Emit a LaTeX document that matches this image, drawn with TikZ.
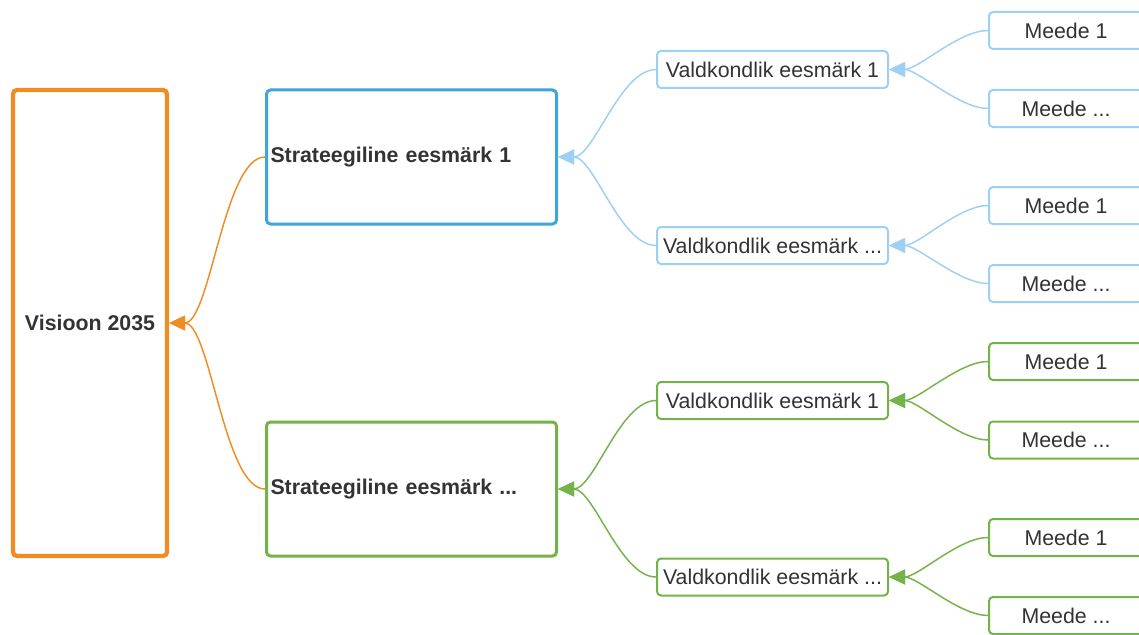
\documentclass[tikz,border=0pt]{standalone}
\usepackage{fontspec}
\setmainfont{Liberation Sans}
\usetikzlibrary{arrows.meta}
\usetikzlibrary{positioning}

\definecolor{visorange}{HTML}{EF8D22}
\definecolor{stratblue}{HTML}{3FA5DD}
\definecolor{lightblue}{HTML}{9DD0F2}
\definecolor{goalgreen}{HTML}{74B349}
\definecolor{txt}{HTML}{333333}

\begin{document}
\begin{tikzpicture}[x=0.75pt,y=-0.75pt,>={Triangle[length=12pt,width=11pt]},
    box/.style={draw, rounded corners=3pt, fill=white, text=txt, font=\fontsize{16}{19}\selectfont, inner sep=0pt},
    visbox/.style={box, line width=3.2pt, minimum width=115.5pt, minimum height=349.5pt, font=\fontsize{16}{19}\selectfont\bfseries},
    stratbox/.style={box, line width=2.25pt, font=\fontsize{16}{19}\selectfont\bfseries, text width=211.5pt, align=left, inner xsep=3pt, minimum height=100.5pt},
    goalbox/.style={box, line width=1.5pt, minimum width=173.25pt, minimum height=27.75pt},
    measurebox/.style={box, line width=1.5pt, minimum width=115.5pt, minimum height=27.75pt},
    link/.style={->, line width=1.1pt, looseness=0.7}]
      \useasboundingbox (0, 0) rectangle (1139, 635);

      % vision
      \node[visbox, draw=visorange] (vis) at (90, 323) {Visioon 2035};

      % strategic goals
      \node[stratbox, draw=stratblue] (S1) at (411.5, 157) {Strateegiline eesmärk 1};
      \node[stratbox, draw=goalgreen] (S2) at (411.5, 489) {Strateegiline eesmärk ...};

      % field goals
      \node[goalbox, draw=lightblue] (D1) at (772.5, 69.5)  {Valdkondlik eesmärk 1};
      \node[goalbox, draw=lightblue] (D2) at (772.5, 245.5) {Valdkondlik eesmärk ...};
      \node[goalbox, draw=goalgreen] (D3) at (772.5, 400.5) {Valdkondlik eesmärk 1};
      \node[goalbox, draw=goalgreen] (D4) at (772.5, 577)   {Valdkondlik eesmärk ...};

      % measures
      \node[measurebox, draw=lightblue] (M1) at (1066, 30.5)  {Meede 1};
      \node[measurebox, draw=lightblue] (M2) at (1066, 108.5) {Meede ...};
      \node[measurebox, draw=lightblue] (M3) at (1066, 205.5) {Meede 1};
      \node[measurebox, draw=lightblue] (M4) at (1066, 283.5) {Meede ...};
      \node[measurebox, draw=goalgreen] (M5) at (1066, 361.5) {Meede 1};
      \node[measurebox, draw=goalgreen] (M6) at (1066, 440)   {Meede ...};
      \node[measurebox, draw=goalgreen] (M7) at (1066, 537.5) {Meede 1};
      \node[measurebox, draw=goalgreen] (M8) at (1066, 615.5) {Meede ...};

      \draw[link, visorange, looseness=0.55] (S1.west) to[out=180, in=0] (vis.east);
      \draw[link, visorange, looseness=0.55] (S2.west) to[out=180, in=0] (vis.east);

      \draw[link, lightblue] (D1.west) to[out=180, in=0] (S1.east);
      \draw[link, lightblue] (D2.west) to[out=180, in=0] (S1.east);
      \draw[link, goalgreen] (D3.west) to[out=180, in=0] (S2.east);
      \draw[link, goalgreen] (D4.west) to[out=180, in=0] (S2.east);

      \draw[link, lightblue] (M1.west) to[out=180, in=0] (D1.east);
      \draw[link, lightblue] (M2.west) to[out=180, in=0] (D1.east);
      \draw[link, lightblue] (M3.west) to[out=180, in=0] (D2.east);
      \draw[link, lightblue] (M4.west) to[out=180, in=0] (D2.east);
      \draw[link, goalgreen] (M5.west) to[out=180, in=0] (D3.east);
      \draw[link, goalgreen] (M6.west) to[out=180, in=0] (D3.east);
      \draw[link, goalgreen] (M7.west) to[out=180, in=0] (D4.east);
      \draw[link, goalgreen] (M8.west) to[out=180, in=0] (D4.east);
\end{tikzpicture}
\end{document}
